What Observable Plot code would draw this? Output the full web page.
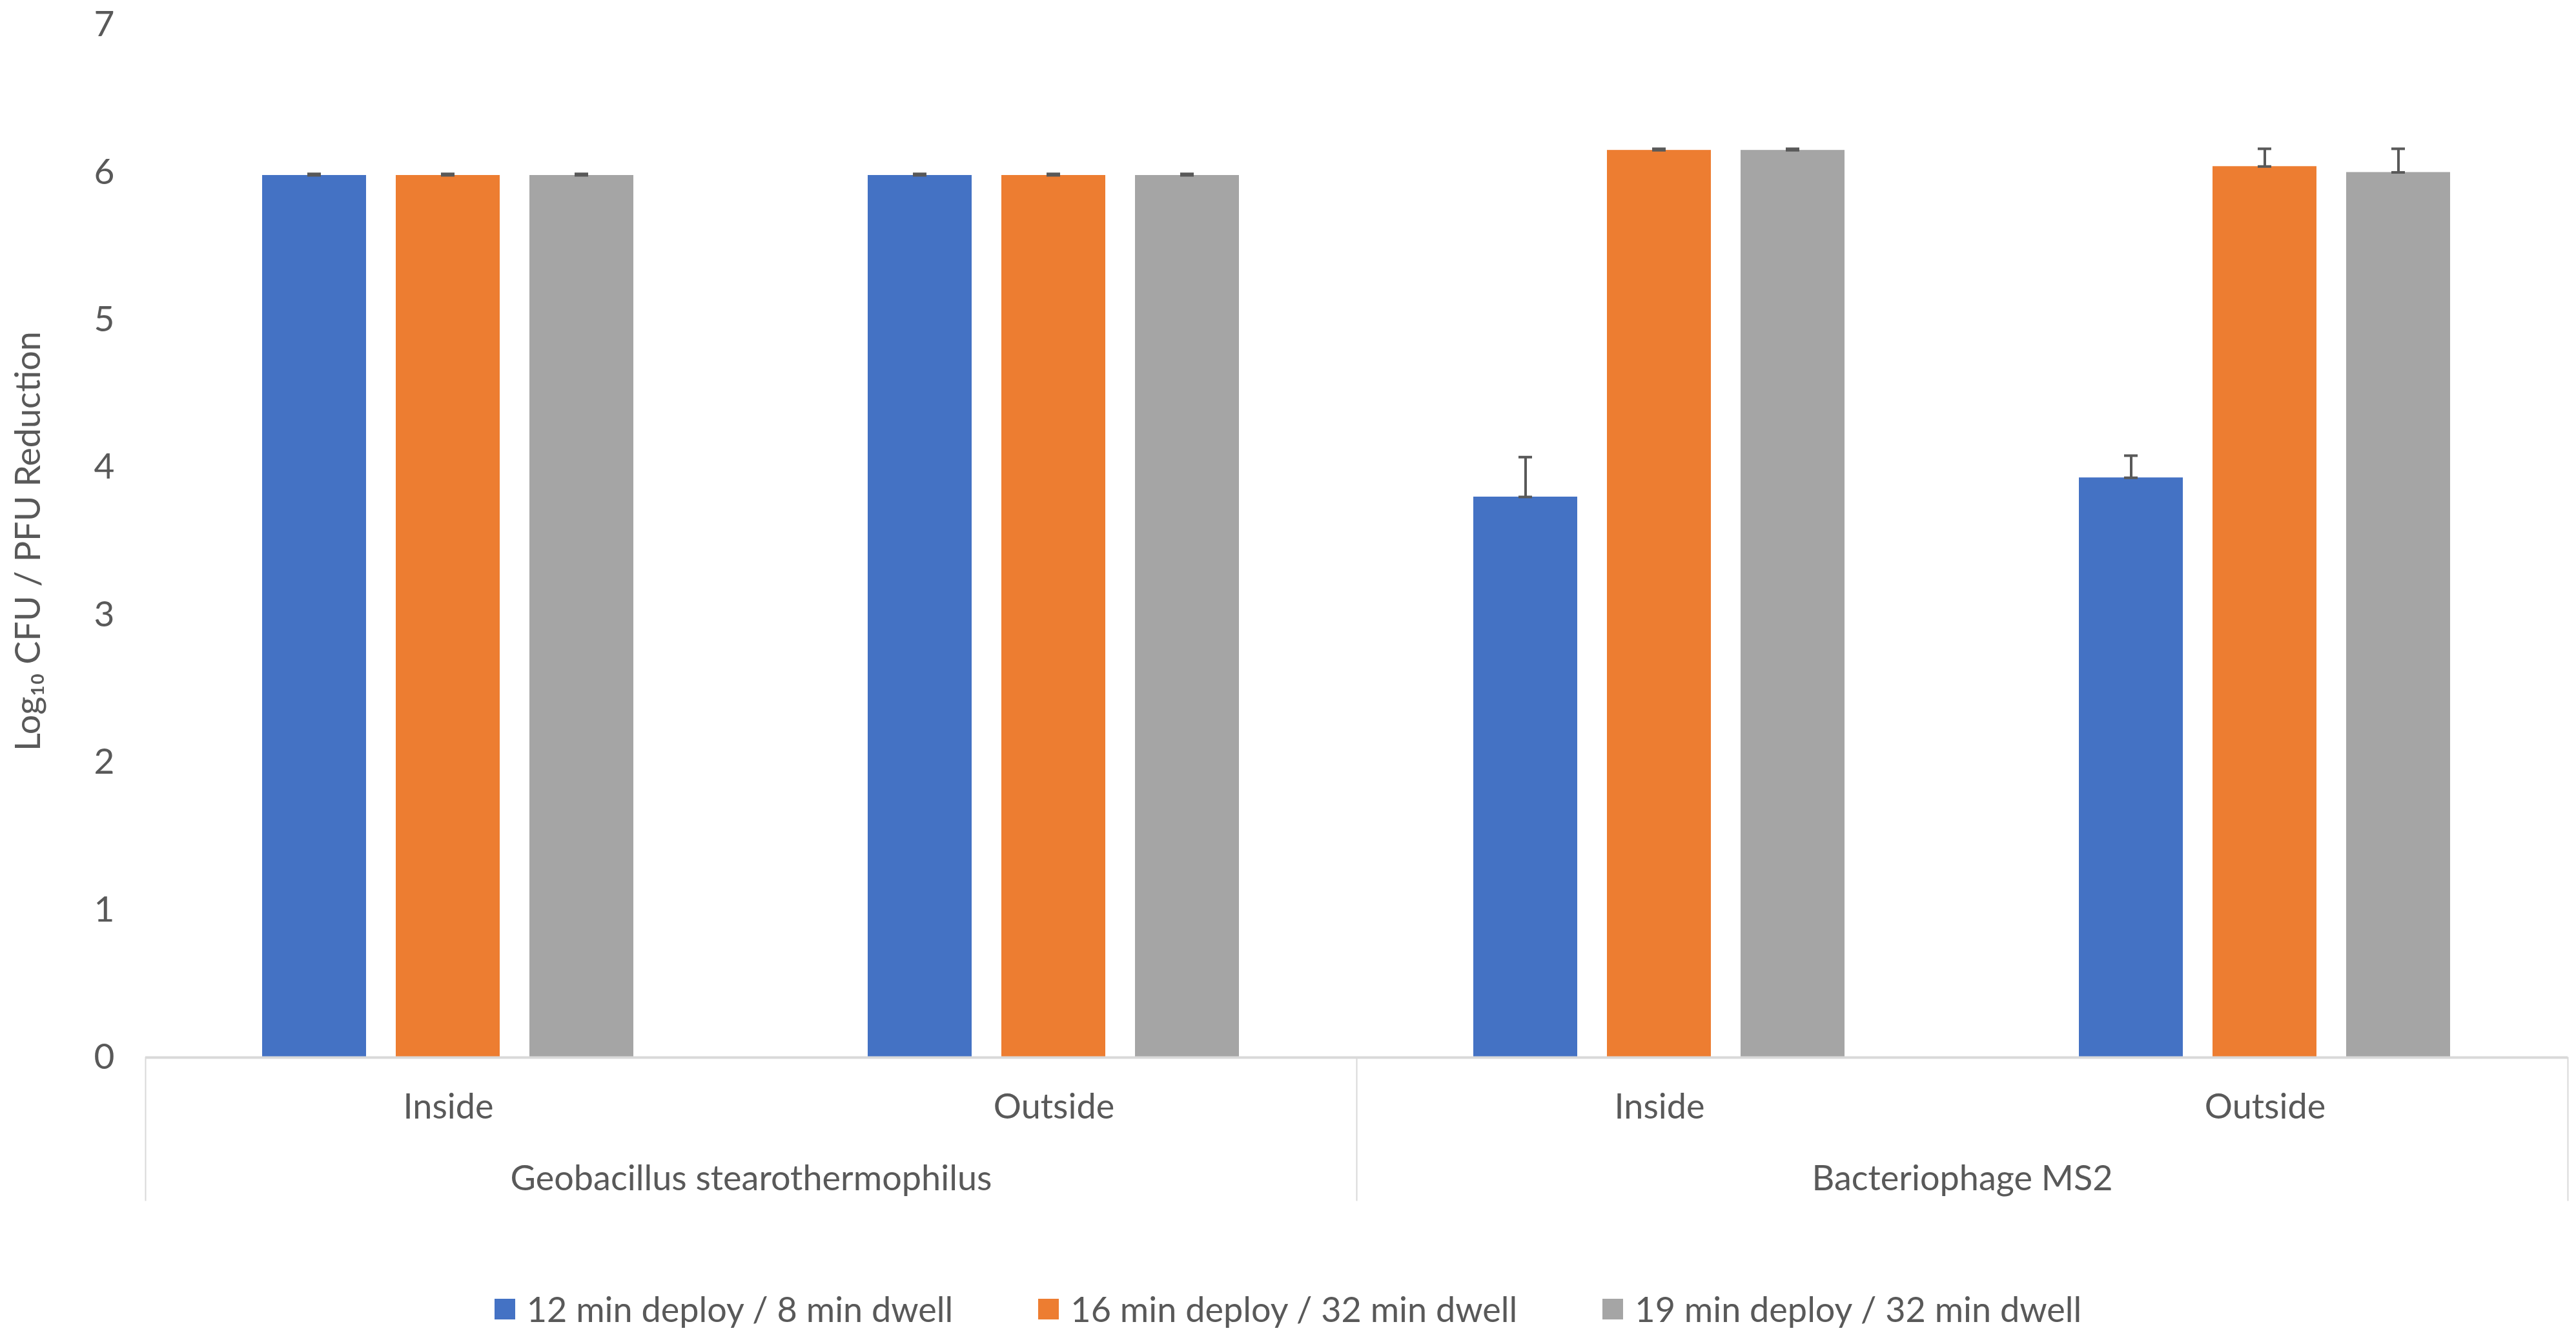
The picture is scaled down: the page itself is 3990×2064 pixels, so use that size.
<!DOCTYPE html>
<html>
<head>
<meta charset="utf-8">
<script src="https://cdn.jsdelivr.net/npm/d3@7"></script>
<script src="https://cdn.jsdelivr.net/npm/@observablehq/plot@0.6"></script>
<style>
  html, body { margin: 0; padding: 0; background: #ffffff; }
  #chart svg { display: block; }
  div.lg-swatches-wrap span.lg-swatch { margin-right: 132px !important; }
  div.lg-swatches-wrap span.lg-swatch:last-child { margin-right: 0 !important; }
  div.lg-swatches-wrap span.lg-swatch > svg { margin-right: 18px !important; }
</style>
</head>
<body>
<div id="chart"></div>
<script>
// ---- data ----
const organisms = ["Geobacillus stearothermophilus", "Bacteriophage MS2"];
const locations = ["Inside", "Outside"];
const series = ["12 min deploy / 8 min dwell", "16 min deploy / 32 min dwell", "19 min deploy / 32 min dwell"];
const seriesColors = ["#4472C4", "#ED7D31", "#A5A5A5"];
// values in order: Geo Inside, Geo Outside, MS2 Inside, MS2 Outside
const reduction12 = [5.98, 5.98, 3.80, 3.93];
const reduction16 = [5.98, 5.98, 6.15, 6.04];
const reduction19 = [5.98, 5.98, 6.15, 6.00];
const errPlus12 = [0.01, 0.01, 0.27, 0.15];
const errPlus16 = [0.01, 0.01, 0.01, 0.12];
const errPlus19 = [0.01, 0.01, 0.01, 0.16];
const yTicks = [0, 1, 2, 3, 4, 5, 6, 7];
const yLabel = "Log\u2081\u2080 CFU / PFU Reduction";

// ---- table built from arrays ----
const keys = organisms.flatMap(o => locations.map(l => o + "|" + l));
const values = [reduction12, reduction16, reduction19];
const errs = [errPlus12, errPlus16, errPlus19];
const rows = [];
series.forEach((s, si) => keys.forEach((k, ki) => rows.push({key: k, series: s, value: values[si][ki], err: errs[si][ki]})));
const orgRows = organisms.map(o => ({org: o, key: o + "|" + locations[0]}));

const W = 3990, H = 1995;
const mTop = 38, mBottom = 358, mLeft = 224, mRight = 12;
const font = "Lato, 'Segoe UI', 'Open Sans', sans-serif";
const sepColor = "#d9d9d9";
const errColor = "#595959";

const chart = Plot.plot({
  width: W,
  height: H,
  marginTop: mTop,
  marginBottom: mBottom,
  marginLeft: mLeft,
  marginRight: mRight,
  style: {fontFamily: font, fontSize: "54px", color: "#595959", background: "#ffffff"},
  fx: {domain: keys, padding: 0, label: null},
  x: {domain: series, paddingInner: 0.221, paddingOuter: 0.867, axis: null},
  y: {domain: [0, 7], label: null},
  color: {domain: series, range: seriesColors},
  marks: [
    Plot.axisY({ticks: yTicks, tickSize: 0, tickPadding: 48, fontSize: 55, label: null, tickFormat: d => String(d)}),
    Plot.axisFx({anchor: "bottom", tickSize: 0, tickPadding: 56, fontSize: 54, label: null, tickFormat: d => d.split("|")[1]}),
    Plot.barY(rows, {fx: "key", x: "series", y: "value", fill: "series"}),
    Plot.ruleX(rows, {fx: "key", x: "series", y1: "value", y2: d => d.value + d.err, stroke: errColor, strokeWidth: 4}),
    Plot.tickY(rows, {fx: "key", x: "series", y: d => d.value + d.err, stroke: errColor, strokeWidth: 4, insetLeft: 70, insetRight: 70}),
    Plot.tickY(rows, {fx: "key", x: "series", y: "value", stroke: errColor, strokeWidth: 4, insetLeft: 70, insetRight: 70}),
    Plot.ruleY([0], {stroke: sepColor, strokeWidth: 4}),
    Plot.frame({anchor: "left", fx: () => keys[0], stroke: sepColor, strokeWidth: 2, insetTop: H - mBottom - mTop, insetBottom: -221}),
    Plot.frame({anchor: "left", fx: () => keys[2], stroke: sepColor, strokeWidth: 2, insetTop: H - mBottom - mTop, insetBottom: -221}),
    Plot.frame({anchor: "right", fx: () => keys[3], stroke: sepColor, strokeWidth: 2, insetTop: H - mBottom - mTop, insetBottom: -221}),
    Plot.text(orgRows, {fx: "key", text: "org", frameAnchor: "bottom-right", textAnchor: "middle", lineAnchor: "middle", dy: 188, fontSize: 54, fill: "#595959"}),
    Plot.text([yLabel], {fx: () => keys[0], text: d => d, frameAnchor: "left", dx: -181, rotate: -90, textAnchor: "middle", lineAnchor: "middle", fontSize: 54, fill: "#595959"})
  ]
});

const legend = Plot.legend({
  color: {type: "ordinal", domain: series, range: seriesColors},
  className: "lg",
  swatchSize: 32,
  style: {fontFamily: font, fontSize: "54px", color: "#595959", justifyContent: "center", marginBottom: "0", lineHeight: "64px", minHeight: "64px"}
});

const root = document.getElementById("chart");
root.appendChild(chart);
root.appendChild(legend);
</script>
</body>
</html>
